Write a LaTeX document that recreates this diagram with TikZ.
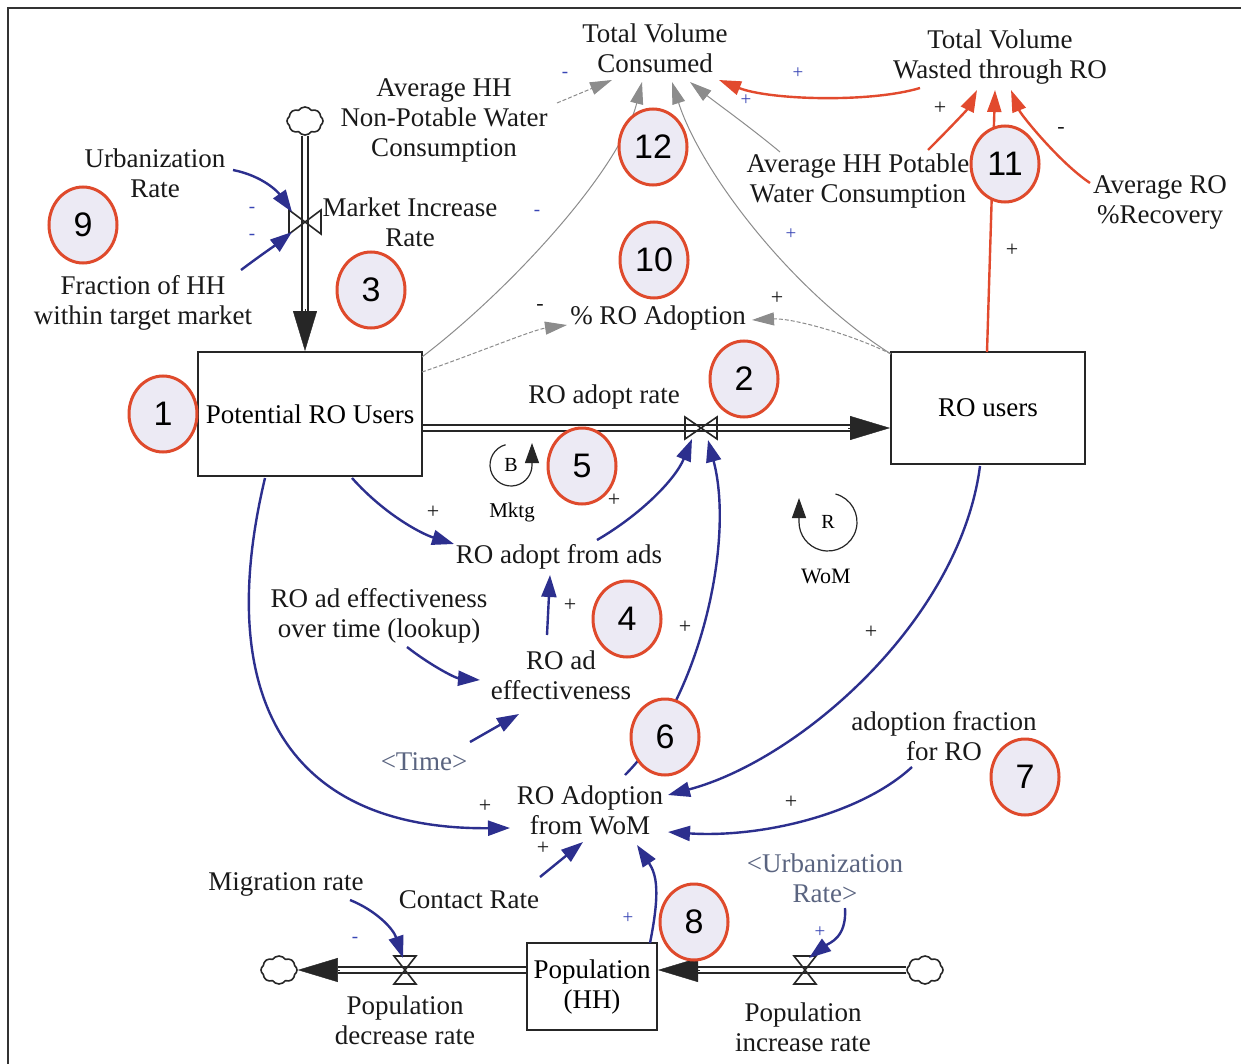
\documentclass[tikz,border=0pt]{standalone}
\usepackage{fontspec}
\setmainfont{Liberation Serif}
\newfontfamily\numfont{Liberation Sans}
\usetikzlibrary{arrows.meta,shapes.geometric,shapes.symbols,calc}
\definecolor{linkblue}{HTML}{2C2F8E}
\definecolor{numred}{HTML}{DF4A2C}
\definecolor{numfill}{HTML}{ECEAF4}
\definecolor{infogray}{HTML}{8C8C8C}
\definecolor{signblue}{HTML}{3845B5}
\definecolor{shadowtext}{HTML}{5A6480}
\definecolor{wastered}{HTML}{E24A2E}
\begin{document}
\begin{tikzpicture}[x=0.5pt,y=-0.5pt,
  lbl/.style={font=\fontsize{13.5}{15}\selectfont, align=center, inner sep=1pt, text=black!90},
  ghost/.style={lbl, text=shadowtext},
  stock/.style={draw=black!85, line width=1pt, rectangle, inner sep=0pt,
    font=\fontsize{13.5}{15}\selectfont, align=center},
  num/.style={ellipse, draw=numred, line width=1.5pt, fill=numfill, minimum width=34pt,
    minimum height=38pt, inner sep=0pt, font=\numfont\fontsize{17}{17}\selectfont},
  pipe/.style={draw=black!85, double=white, line width=0.9pt, double distance=2.2pt},
  pipehead/.style={black!85, line width=0.2pt, -{Triangle[length=20pt,width=12pt]}},
  valve/.style={draw=black!85, line width=0.8pt, line join=miter},
  cloudy/.style={cloud, cloud puffs=8, cloud puff arc=110, aspect=1.3, draw=black!85,
    line width=0.8pt, minimum width=18pt, minimum height=14pt, inner sep=0pt},
  link/.style={linkblue, line width=1.2pt, -{Triangle[length=11pt,width=7.5pt]}},
  glink/.style={infogray, line width=0.5pt, -{Triangle[length=11pt,width=6.5pt]}},
  dlink/.style={glink, dash pattern=on 2pt off 1pt},
  rlink/.style={wastered, line width=1.2pt, -{Triangle[length=11pt,width=7pt]}},
  sgn/.style={font=\fontsize{11}{11}\selectfont, inner sep=0pt, text=black!90},
  bsgn/.style={font=\fontsize{9.5}{10}\selectfont, inner sep=0pt, text=signblue},
  loopline/.style={black!85, line width=0.6pt, -{Triangle[length=10pt,width=7pt]}},
  looptag/.style={font=\fontsize{10}{10}\selectfont, inner sep=0pt}
]
\useasboundingbox (0,0) rectangle (1241,1064);
\fill[white] (0,0) rectangle (1241,1064);

% frame
\draw[black!80, line width=1.2pt] (8,1064) -- (8,8) -- (1241,8);

% variables
\node[lbl] (tvc) at (655,48) {Total Volume\\Consumed};
\node[lbl] (tvw) at (1000,57) {Total Volume\\Wasted through RO};
\node[lbl] (npw) at (444,120) {Average HH\\Non-Potable Water\\Consumption};
\node[lbl] (urb) at (155,173) {Urbanization\\Rate};
\node[lbl] (mir) at (410,222) {Market Increase\\Rate};
\node[lbl] (frac) at (143,303) {Fraction of HH\\within target market};
\node[lbl] (pot) at (858,181) {Average HH Potable\\Water Consumption};
\node[lbl] (rec) at (1160,202) {Average RO\\\%Recovery};
\node[lbl] (pro) at (658,318) {\% RO Adoption};
\node[lbl] (rar) at (604,397) {RO adopt rate};
\node[lbl] (ads) at (559,557) {RO adopt from ads};
\node[lbl] (lookup) at (379,616) {RO ad effectiveness\\over time (lookup)};
\node[lbl] (eff) at (561,675) {RO ad\\effectiveness};
\node[ghost] (time) at (424,762) {<Time>};
\node[lbl] (wom) at (590,810) {RO Adoption\\from WoM};
\node[lbl] (afr) at (944,736) {adoption fraction\\for RO};
\node[lbl] (mig) at (286,884) {Migration rate};
\node[lbl] (con) at (469,900) {Contact Rate};
\node[ghost] (urb2) at (825,878) {<Urbanization\\Rate>};
\node[lbl] (popdec) at (405,1020) {Population\\decrease rate};
\node[lbl] (popinc) at (803,1027) {Population\\increase rate};

% stocks
\node[stock, minimum width=112pt, minimum height=62pt] (pru) at (310,414) {Potential RO Users};
\node[stock, minimum width=97pt, minimum height=56pt] (rou) at (988,408) {RO users};
\node[stock, minimum width=65pt, minimum height=43.5pt] (pop) at (592,986.5) {Population\\(HH)};

% sources and sinks
\node[cloudy] (cloudA) at (305,121) {};
\node[cloudy] (cloudL) at (279,970) {};
\node[cloudy] (cloudR) at (925,970) {};

% valve centres
\coordinate (v1) at (305,222);
\coordinate (v2) at (701,428);
\coordinate (v3) at (405,970);
\coordinate (v4) at (805,970);

% flows
\draw[pipe] (cloudA.south) -- ($(pru.north)+(-5,-40)$);
\draw[pipehead] ($(pru.north)+(-5,-42)$) -- ($(pru.north)+(-5,0)$);
\draw[pipe] ($(pru.east)+(0,14)$) -- ($(rou.west)+(-40,20)$);
\draw[pipehead] ($(rou.west)+(-42,20)$) -- ($(rou.west)+(0,20)$);
\draw[pipe] ($(pop.west)+(0,-16.5)$) -- ($(cloudL.east)+(40,0)$);
\draw[pipehead] ($(cloudL.east)+(42,0)$) -- (cloudL.east);
\draw[pipe] (cloudR.west) -- ($(pop.east)+(40,-16.5)$);
\draw[pipehead] ($(pop.east)+(42,-16.5)$) -- ($(pop.east)+(0,-16.5)$);

% valves
\draw[valve] ($(v1)+(-16,-12)$) -- ($(v1)+(-16,12)$) -- ($(v1)+(16,-12)$) -- ($(v1)+(16,12)$) -- cycle;
\draw[valve] ($(v2)+(-16,-11)$) -- ($(v2)+(-16,11)$) -- ($(v2)+(16,-11)$) -- ($(v2)+(16,11)$) -- cycle;
\draw[valve] ($(v3)+(-11,-14)$) -- ($(v3)+(11,-14)$) -- ($(v3)+(-11,14)$) -- ($(v3)+(11,14)$) -- cycle;
\draw[valve] ($(v4)+(-11,-14)$) -- ($(v4)+(11,-14)$) -- ($(v4)+(-11,14)$) -- ($(v4)+(11,14)$) -- cycle;

% information links
\draw[link] ($(urb)+(78,-3)$) .. controls +(30,6) and +(-14,-20) .. ($(v1)+(-13,-10)$);
\draw[link] ($(frac)+(98,-33)$) .. controls +(20,-15) and +(-15,12) .. ($(v1)+(-13,10)$);
\draw[link] ($(pru)+(42,64)$) .. controls +(33,37) and +(-32,-10) .. ($(ads)+(-105,-13)$);
\draw[link] ($(ads)+(38,-17)$) .. controls +(43,-25) and +(-17,41) .. ($(v2)+(-9,11)$);
\draw[link] ($(eff)+(-14,-40)$) -- ($(ads)+(-9,18)$);
\draw[link] ($(lookup)+(28,31)$) .. controls +(23,18) and +(-25,-2) .. ($(eff)+(-81,5)$);
\draw[link] ($(time)+(46,-20)$) -- ($(eff)+(-42,39)$);
\draw[link] ($(pru)+(-45,64)$) .. controls +(-53,222) and +(-220,2) .. ($(wom)+(-80,18)$);
\draw[link] ($(wom)+(35,-35)$) .. controls +(75,-75) and +(27,101) .. ($(v2)+(7,12)$);
\draw[link] ($(rou)+(-8,58)$) .. controls +(-20,154) and +(132,-35) .. ($(wom)+(78,-15)$);
\draw[link] ($(afr)+(-32,31)$) .. controls +(-52,48) and +(92,6) .. ($(wom)+(78,22)$);
\draw[link] ($(con)+(71,-23)$) -- ($(wom)+(-7,32)$);
\draw[link] ($(pop)+(58,-43.5)$) .. controls +(10,-50) and +(20,30) .. ($(wom)+(47,35)$);
\draw[link] ($(mig)+(64,16)$) .. controls +(25,10) and +(-10,-30) .. ($(v3)+(-2,-12)$);
\draw[link] ($(urb2)+(20,30)$) .. controls +(2,30) and +(20,-15) .. ($(v4)+(4,-12)$);

% water volume links
\draw[dlink] ($(npw)+(113,-17)$) -- ($(tvc)+(-43,32)$);
\draw[glink] ($(pru)+(112,-57)$) .. controls +(88,-67) and +(-22,88) .. ($(tvc)+(-13,34)$);
\draw[dlink] ($(pru)+(112,-42)$) .. controls +(45,-15) and +(-35,5) .. ($(pro)+(-91,7)$);
\draw[dlink] ($(rou)+(-97,-54)$) .. controls +(-40,-20) and +(40,-2) .. ($(pro)+(94,2)$);
\draw[glink] ($(rou)+(-97,-54)$) .. controls +(-101,-64) and +(28,88) .. ($(tvc)+(17,34)$);
\draw[glink] ($(pot)+(-78,-29)$) .. controls +(-30,-25) and +(25,20) .. ($(tvc)+(35,34)$);
\draw[rlink] ($(tvw)+(-80,31)$) .. controls +(-50,15) and +(50,20) .. ($(tvc)+(64,32)$);
\draw[rlink] ($(pot)+(70,-31)$) .. controls +(20,-20) and +(-10,20) .. ($(tvw)+(-23,33)$);
\draw[rlink] ($(rou)+(-1,-56)$) -- ($(tvw)+(-5,33)$);
\draw[rlink] ($(rec)+(-70,-19)$) .. controls +(-30,-20) and +(10,25) .. ($(tvw)+(11,33)$);

% loop markers
\node[looptag] (lB) at (511,465) {B};
\draw[loopline] ($(lB)+(105:10.5pt)$) arc[start angle=105,end angle=360,radius=10.5pt] -- ++(0,-22);
\node[looptag, font=\fontsize{10.5}{11}\selectfont] (mk) at (512,512) {Mktg};
\node[looptag] (lR) at (828,522) {R};
\draw[loopline] ($(lR)+(75:14.5pt)$) arc[start angle=75,end angle=-180,radius=14.5pt] -- ++(0,-24);
\node[looptag, font=\fontsize{11}{11}\selectfont] (wm) at (826,576) {WoM};

% polarity signs
\node[bsgn] (sg1) at (252,210) {-};
\node[bsgn] (sg2) at (252,237) {-};
\node[bsgn] (sg3) at (565,75) {-};
\node[bsgn] (sg4) at (537,213) {-};
\node[sgn] (sg5) at (540,307) {-};
\node[sgn] (sg6) at (777,298) {+};
\node[bsgn] (sg7) at (791,234) {+};
\node[bsgn] (sg8) at (798,73) {+};
\node[bsgn] (sg9) at (746,100) {+};
\node[sgn] (sg10) at (940,108) {+};
\node[sgn] (sg11) at (1061,130) {-};
\node[sgn] (sg12) at (1012,250) {+};
\node[sgn] (sg13) at (433,512) {+};
\node[sgn] (sg14) at (614,500) {+};
\node[sgn] (sg15) at (570,605) {+};
\node[sgn] (sg16) at (685,627) {+};
\node[sgn] (sg17) at (871,632) {+};
\node[sgn] (sg18) at (485,806) {+};
\node[sgn] (sg19) at (791,802) {+};
\node[sgn] (sg20) at (543,848) {+};
\node[bsgn] (sg21) at (628,918) {+};
\node[bsgn] (sg22) at (355,940) {-};
\node[bsgn] (sg23) at (820,932) {+};

% numbered callouts
\node[num] (n1) at (163,414) {1};
\node[num] (n2) at (744,379) {2};
\node[num] (n3) at (371,290) {3};
\node[num] (n4) at (627,619) {4};
\node[num] (n5) at (582,466) {5};
\node[num] (n6) at (665,737) {6};
\node[num] (n7) at (1025,777) {7};
\node[num] (n8) at (694,922) {8};
\node[num] (n9) at (83,225) {9};
\node[num] (n10) at (654,260) {10};
\node[num] (n11) at (1005,164) {11};
\node[num] (n12) at (653,147) {12};
\end{tikzpicture}
\end{document}
